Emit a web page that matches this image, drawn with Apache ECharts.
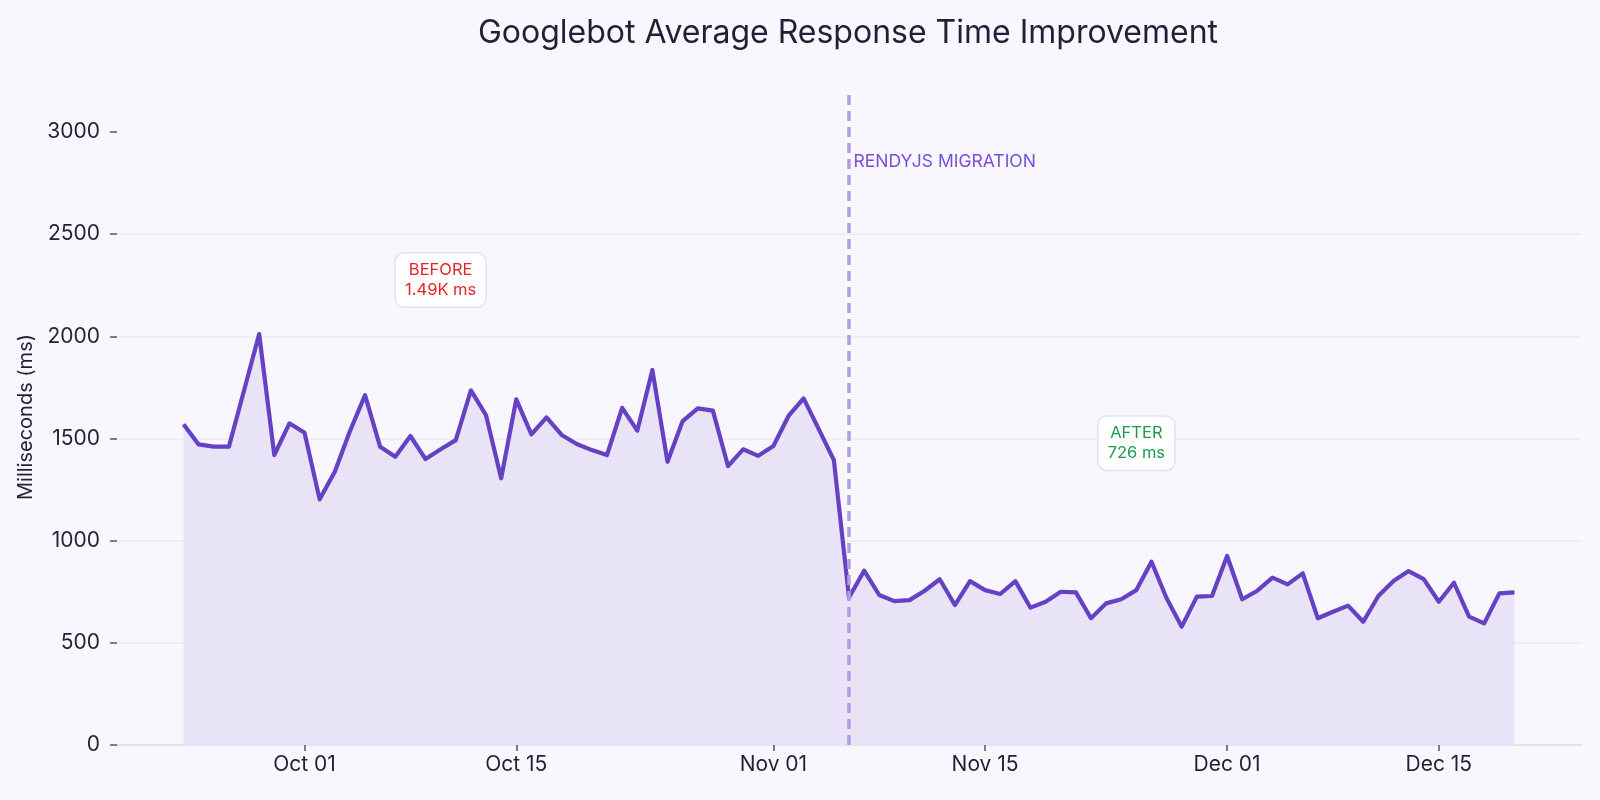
<!DOCTYPE html>
<html>
<head>
<meta charset="utf-8">
<script src="https://cdn.jsdelivr.net/npm/echarts@6/dist/echarts.min.js"></script>
<style>
html,body{margin:0;padding:0;background:#f8f7fe;}
#chart{width:1600px;height:800px;}
</style>
</head>
<body>
<div id="chart"></div>
<script>
// ---- data (daily, starting Sep 23) ----
const startDate = [2024, 8, 23]; // year, monthIndex, day
const responseMs = [
  1570,1471,1460,1460,1735,2011,1419,1574,1528,1202,
  1337,1535,1712,1459,1410,1512,1399,1447,1492,1735,
  1614,1305,1691,1520,1603,1517,1473,1443,1419,1650,
  1538,1835,1386,1585,1647,1636,1365,1447,1415,1463,
  1610,1696,1546,1394,
  722,853,734,704,709,755,811,685,802,758,
  739,802,672,701,750,747,620,693,713,758,
  897,718,579,726,729,925,713,755,819,786,
  840,620,652,682,603,729,802,851,812,701,
  794,628,595,742,747
];
const tickDates = [[2024,9,1],[2024,9,15],[2024,10,1],[2024,10,15],[2024,11,1],[2024,11,15]];
const tickLabels = ['Oct 01','Oct 15','Nov 01','Nov 15','Dec 01','Dec 15'];
const yTicks = [0, 500, 1000, 1500, 2000, 2500, 3000];
const migrationDate = [2024, 10, 6];
const migrationLabel = 'RENDYJS MIGRATION';
const beforeLabel = ['BEFORE', '1.49K ms'];
const afterLabel = ['AFTER', '726 ms'];

const DAY = 86400000;
const t0 = Date.UTC(startDate[0], startDate[1], startDate[2]);
const seriesData = responseMs.map((v, i) => [t0 + i * DAY, v]);
const tickTs = tickDates.map(d => Date.UTC(d[0], d[1], d[2]));
const labelMap = new Map(tickTs.map((t, i) => [t, tickLabels[i]]));
const tFirst = seriesData[0][0], tLast = seriesData[seriesData.length - 1][0];
const pad = (tLast - tFirst) * 0.05;
const migTs = Date.UTC(migrationDate[0], migrationDate[1], migrationDate[2]);

const FONT = 'Inter';
const chart = echarts.init(document.getElementById('chart'));
chart.setOption({
  backgroundColor: '#f8f7fe',
  animation: false,
  textStyle: { fontFamily: FONT },
  title: {
    text: 'Googlebot Average Response Time Improvement',
    left: 843, top: 12, textAlign: 'center',
    textStyle: { fontFamily: FONT, fontSize: 32, fontWeight: 'normal', color: '#1f2237' }
  },
  grid: { left: 117, right: 19, top: 89, bottom: 55 },
  xAxis: {
    type: 'value',
    min: tFirst - pad, max: tLast + pad,
    axisLine: { show: true, lineStyle: { color: '#e2e1ee', width: 2 } },
    axisTick: { show: true, customValues: tickTs, length: 6, lineStyle: { color: '#555566', width: 1.5 } },
    axisLabel: {
      customValues: tickTs, margin: 9,
      formatter: v => labelMap.get(v) || '',
      fontFamily: FONT, fontSize: 21, color: '#1f2237'
    },
    splitLine: { show: false }
  },
  yAxis: {
    type: 'value', min: 0, max: 3210,
    name: 'Milliseconds (ms)', nameLocation: 'middle', nameGap: 76,
    nameTextStyle: { fontFamily: FONT, fontSize: 20, color: '#1f2237' },
    axisLine: { show: false },
    axisTick: { show: true, customValues: yTicks, length: 7, lineStyle: { color: '#555566', width: 1.5 } },
    axisLabel: { customValues: yTicks, margin: 17, formatter: v => String(v),
      fontFamily: FONT, fontSize: 21, color: '#1f2237' },
    splitLine: { show: true, showMaxLine: false, showMinLine: false, lineStyle: { color: '#ebeaf6', width: 1.5 } }
  },
  series: [{
    type: 'line',
    data: seriesData,
    symbol: 'none',
    lineStyle: { color: '#6741c4', width: 4.2, join: 'round' },
    itemStyle: { color: '#6741c4' },
    areaStyle: { color: '#e8e3f7', opacity: 1 },
    markLine: {
      silent: true, symbol: ['none', 'none'],
      label: { show: false },
      lineStyle: { color: '#b39ce6', width: 3.5, type: [10, 6] },
      data: [{ xAxis: migTs }]
    },
    markPoint: {
      silent: true,
      symbol: 'circle', symbolSize: 1,
      itemStyle: { color: 'rgba(0,0,0,0)' },
      data: [
        {
          coord: [migTs, 2852],
          label: { show: true, position: 'right', distance: 4, formatter: migrationLabel,
            fontFamily: FONT, fontSize: 17.5, color: '#7a4fd8' }
        },
        {
          coord: [t0 + 17 * DAY, 2275],
          label: { show: true, position: 'inside', formatter: beforeLabel.join('\n'),
            fontFamily: FONT, fontSize: 16.5, lineHeight: 20, color: '#e3242b', align: 'center',
            backgroundColor: '#ffffff', borderColor: '#dfe4ee', borderWidth: 1.5, borderRadius: 8,
            padding: [7, 9, 6, 9] }
        },
        {
          coord: [t0 + 63 * DAY, 1477],
          label: { show: true, position: 'inside', formatter: afterLabel.join('\n'),
            fontFamily: FONT, fontSize: 16.5, lineHeight: 20, color: '#1c9b50', align: 'center',
            backgroundColor: '#ffffff', borderColor: '#dfe4ee', borderWidth: 1.5, borderRadius: 8,
            padding: [7, 9, 6, 9] }
        }
      ]
    }
  }]
});
</script>
</body>
</html>
